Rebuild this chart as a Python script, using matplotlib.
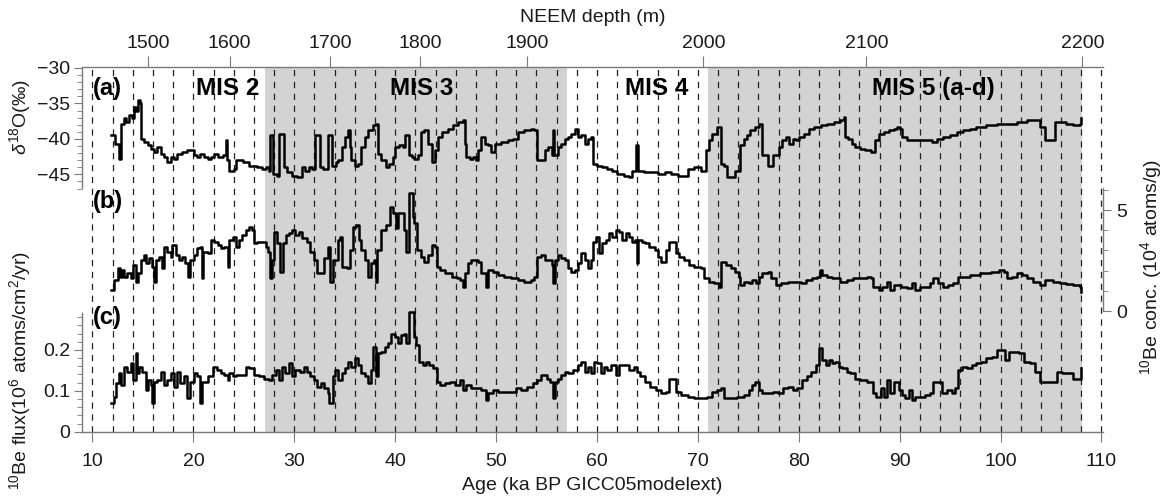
import numpy as np
import matplotlib
matplotlib.use("Agg")
import matplotlib.pyplot as plt
from matplotlib.ticker import MultipleLocator, FixedLocator

plt.rcParams['font.family'] = ['Liberation Sans', 'DejaVu Sans']
plt.rcParams['mathtext.fontset'] = 'custom'
plt.rcParams['mathtext.rm'] = 'Liberation Sans'
plt.rcParams['mathtext.it'] = 'Liberation Sans:italic'
plt.rcParams['mathtext.bf'] = 'Liberation Sans:bold'

# ---- data ----
# (a) NEEM d18O, per mil
a_age = [11.8, 12.2, 12.6, 12.8, 13.1, 13.3, 13.6, 13.9, 14.1, 14.35, 14.55, 14.7, 14.8, 15.1, 15.5,
         15.8, 16.1, 16.4, 16.8, 17.1, 17.4, 17.8, 18.1, 18.4, 18.9, 19.4, 19.7, 20.1, 20.4, 20.7,
         21.1, 21.4, 21.7, 22.0, 22.4, 22.9, 23.2, 23.3, 23.5, 24.0, 24.2, 24.9, 25.5, 26.0, 26.3,
         26.8, 27.2, 27.5, 27.6, 27.8, 27.9, 28.3, 28.5, 28.8, 29.0, 29.3, 29.8, 30.3, 30.8, 31.1,
         31.5, 31.8, 32.1, 32.4, 32.5, 32.8, 33.3, 33.6, 33.7, 34.1, 34.3, 34.7, 35.0, 35.3, 35.5,
         35.65, 36.0, 36.3, 36.65, 37.0, 37.3, 37.8, 38.1, 38.3, 38.6, 39.1, 39.4, 39.8, 40.0, 40.4,
         40.8, 41.0, 41.3, 41.4, 41.7, 41.9, 42.3, 42.6, 42.9, 43.25, 43.6, 43.9, 44.2, 44.6, 45.2,
         45.7, 46.2, 46.7, 46.9, 47.0, 47.4, 47.7, 48.0, 48.2, 48.5, 48.9, 49.2, 49.5, 49.9, 50.5,
         51.2, 51.7, 52.2, 52.8, 53.5, 53.8, 54.1, 54.5, 54.8, 55.1, 55.5, 55.6, 55.7, 56.1, 56.45,
         56.8, 57.1, 57.4, 57.8, 58.1, 58.4, 58.8, 59.1, 59.4, 59.6, 60.05, 60.5, 61.0, 61.5, 62.0,
         62.7, 63.2, 63.5, 63.9, 64.1, 64.7, 65.3, 66.0, 66.7, 67.3, 68.0, 68.6, 69.0, 69.6, 70.3,
         70.8, 71.1, 71.4, 71.9, 72.3, 72.6, 72.9, 73.4, 73.7, 74.2, 74.6, 74.9, 75.2, 75.7, 76.1,
         76.4, 76.9, 77.4, 78.0, 78.3, 78.7, 79.0, 79.4, 79.7, 80.0, 80.5, 81.0, 81.5, 82.2, 82.8,
         83.5, 84.1, 84.5, 84.6, 84.9, 85.3, 85.6, 86.1, 86.6, 87.2, 87.6, 87.9, 88.4, 88.9, 89.4,
         89.7, 90.0, 90.2, 90.7, 91.4, 92.0, 92.7, 93.2, 93.7, 94.3, 95.0, 95.7, 96.3, 97.0, 97.6,
         98.6, 99.6, 100.6, 101.6, 102.6, 103.6, 103.9, 104.4, 105.2, 105.4, 105.9, 106.5, 107.2,
         107.9, 108.0]
a_val = [-39.5, -40.7, -42.8, -37.9, -37.1, -37.6, -36.7, -37.1, -35.5, -36.0, -34.5, -35.0, -40.0,
         -40.5, -40.9, -41.4, -41.9, -41.2, -42.1, -42.6, -43.3, -42.6, -42.8, -42.1, -41.9, -41.5,
         -41.6, -42.3, -42.6, -42.1, -42.6, -42.8, -42.6, -42.1, -42.6, -42.3, -40.2, -43.0, -44.5,
         -44.2, -43.0, -43.3, -43.8, -43.8, -44.0, -44.2, -44.0, -44.5, -39.5, -39.5, -44.9, -45.2,
         -39.3, -39.3, -44.0, -44.7, -45.2, -45.4, -44.0, -44.5, -44.0, -44.2, -39.5, -39.5, -44.0,
         -44.2, -39.5, -39.5, -43.8, -43.3, -43.0, -41.2, -39.7, -38.8, -41.2, -43.0, -43.8, -43.5,
         -41.2, -39.7, -38.8, -38.1, -37.9, -42.1, -43.0, -44.0, -43.5, -42.6, -41.2, -40.9, -41.2,
         -39.5, -39.5, -42.3, -42.6, -42.8, -42.3, -39.0, -38.8, -40.7, -43.3, -41.6, -39.7, -39.0,
         -38.6, -38.1, -37.6, -37.4, -40.7, -42.6, -42.8, -42.6, -43.0, -41.6, -39.7, -40.7, -40.9,
         -41.9, -40.7, -40.5, -40.2, -40.0, -39.0, -38.8, -38.6, -38.8, -43.0, -43.0, -41.6, -41.2,
         -42.3, -38.8, -42.3, -41.2, -40.7, -40.0, -39.7, -39.3, -38.6, -39.7, -39.5, -40.7, -40.0,
         -39.7, -43.5, -43.8, -44.0, -44.2, -44.5, -44.9, -45.2, -45.4, -44.5, -40.9, -44.5, -44.7,
         -44.7, -44.9, -44.7, -44.9, -45.2, -45.3, -44.2, -44.0, -44.5, -41.6, -40.2, -39.3, -38.3,
         -43.5, -43.8, -45.4, -45.4, -44.5, -40.9, -40.0, -39.5, -38.8, -38.3, -37.9, -42.3, -43.8,
         -42.3, -41.2, -40.2, -39.7, -40.7, -40.0, -40.2, -39.7, -39.3, -38.6, -38.3, -38.1, -37.9,
         -37.6, -37.4, -36.9, -39.7, -40.0, -40.7, -41.2, -41.4, -41.6, -41.9, -40.2, -39.3, -39.0,
         -38.8, -38.6, -38.3, -38.6, -39.7, -40.2, -40.2, -40.2, -40.2, -40.5, -40.0, -39.7, -39.5,
         -39.0, -38.8, -38.6, -38.3, -38.1, -37.9, -37.9, -37.6, -37.4, -37.4, -38.3, -40.2, -40.2,
         -37.6, -37.6, -37.9, -38.1, -37.9, -37.1]

# (b) 10Be concentration, 10^4 atoms/g
b_age = [11.8, 12.1, 12.5, 12.7, 12.9, 13.1, 13.4, 13.8, 14.0, 14.3, 14.5, 14.8, 15.1, 15.3, 15.6,
         15.9, 16.1, 16.3, 16.6, 16.9, 17.1, 17.4, 17.8, 17.9, 18.3, 18.6, 18.9, 19.2, 19.5, 19.7,
         20.1, 20.4, 20.7, 20.9, 21.0, 21.4, 21.7, 22.0, 22.4, 22.7, 23.0, 23.4, 23.5, 23.9, 24.2,
         24.5, 24.85, 25.2, 25.5, 25.8, 26.0, 26.3, 26.8, 27.2, 27.4, 27.6, 27.8, 28.0, 28.3, 28.6,
         28.9, 29.2, 29.5, 29.8, 30.1, 30.5, 30.8, 31.3, 31.6, 31.95, 32.3, 32.6, 32.9, 33.3, 33.5,
         33.8, 34.3, 34.5, 34.7, 35.2, 35.5, 35.8, 36.15, 36.4, 36.65, 37.0, 37.3, 37.6, 37.9, 38.1,
         38.2, 38.6, 39.1, 39.5, 39.8, 40.1, 40.3, 40.8, 40.9, 41.1, 41.4, 41.7, 41.8, 41.9, 42.2,
         42.6, 42.9, 43.25, 43.6, 43.9, 44.1, 44.4, 44.9, 45.6, 46.1, 46.4, 46.7, 46.9, 47.2, 47.5,
         48.2, 48.5, 49.0, 49.2, 49.7, 50.2, 50.8, 51.5, 52.2, 52.8, 53.5, 53.8, 54.1, 54.5, 54.8,
         55.2, 55.5, 55.6, 55.8, 56.1, 56.45, 56.8, 57.1, 57.4, 57.8, 58.1, 58.4, 58.8, 59.1, 59.4,
         59.6, 59.9, 60.2, 60.5, 60.9, 61.2, 61.5, 61.9, 62.2, 62.5, 62.9, 63.2, 63.5, 63.8, 64.0,
         64.1, 64.5, 64.8, 65.2, 65.7, 66.0, 66.3, 66.8, 67.1, 67.5, 67.8, 68.1, 68.6, 69.1, 69.6,
         70.3, 70.6, 71.1, 71.6, 72.1, 72.3, 72.8, 73.3, 73.7, 74.1, 74.2, 74.6, 75.1, 75.4, 75.8,
         76.1, 76.4, 76.9, 77.2, 77.7, 78.2, 78.9, 79.5, 80.2, 80.7, 81.3, 81.8, 82.1, 82.3, 82.8,
         83.3, 83.8, 84.1, 84.8, 85.4, 86.1, 86.75, 87.2, 87.4, 87.9, 88.2, 88.7, 89.05, 89.4, 90.1,
         90.7, 91.2, 91.5, 92.0, 92.5, 93.0, 93.35, 93.8, 94.3, 94.8, 95.3, 95.8, 96.3, 97.0, 98.0,
         99.0, 99.8, 100.3, 100.6, 101.1, 101.6, 102.1, 102.6, 103.25, 103.9, 104.4, 105.2, 105.9,
         106.5, 107.2, 107.9, 108.0]
b_val = [1.04, 1.53, 2.11, 1.70, 2.03, 1.70, 1.86, 1.62, 2.28, 1.45, 1.86, 2.52, 2.77, 2.36, 2.61,
         2.19, 1.45, 2.52, 2.69, 2.11, 3.18, 2.94, 2.69, 3.27, 2.77, 2.52, 2.69, 2.36, 1.70, 2.52,
         2.77, 3.10, 3.18, 1.62, 2.94, 2.85, 3.51, 3.43, 3.27, 3.10, 3.18, 2.19, 3.51, 3.68, 3.18,
         3.51, 3.76, 4.01, 4.17, 4.01, 3.35, 3.43, 3.43, 3.18, 2.94, 1.62, 2.52, 3.93, 3.35, 1.95,
         3.35, 3.76, 3.84, 4.01, 3.76, 3.93, 3.60, 3.43, 2.94, 2.52, 1.86, 1.86, 2.61, 3.18, 1.45,
         2.52, 3.51, 3.68, 2.19, 2.11, 3.02, 4.17, 4.26, 3.51, 3.02, 2.52, 1.70, 2.36, 2.52, 1.45,
         3.02, 4.01, 4.26, 5.17, 4.83, 4.09, 4.83, 4.83, 4.01, 2.94, 5.82, 5.82, 4.67, 4.34, 3.02,
         2.69, 2.44, 2.77, 3.27, 3.18, 2.19, 2.03, 1.86, 1.70, 1.62, 1.53, 1.20, 1.86, 2.36, 2.52,
         2.44, 1.86, 1.20, 2.03, 1.95, 1.78, 1.70, 1.62, 1.53, 1.45, 1.53, 1.70, 2.69, 2.77, 2.52,
         2.52, 2.28, 1.37, 2.52, 2.77, 2.61, 2.52, 2.11, 1.95, 2.03, 2.36, 2.85, 2.52, 2.11, 2.52,
         3.43, 3.68, 2.85, 3.35, 3.51, 3.84, 3.68, 4.01, 3.93, 3.51, 3.84, 3.68, 3.43, 3.51, 2.36,
         3.51, 3.43, 3.35, 3.18, 3.02, 2.69, 2.44, 3.02, 3.43, 3.43, 2.85, 2.69, 2.52, 2.28, 2.19,
         2.11, 1.62, 1.45, 1.37, 1.20, 2.44, 2.28, 2.11, 1.95, 1.70, 1.29, 1.45, 1.37, 1.53, 1.37,
         1.70, 1.86, 1.95, 1.62, 1.29, 1.37, 1.45, 1.45, 1.37, 1.53, 1.62, 1.70, 2.03, 1.78, 1.70,
         1.62, 1.62, 1.45, 1.53, 1.62, 1.62, 1.70, 1.62, 1.20, 1.04, 1.20, 1.45, 1.04, 1.29, 1.20,
         1.12, 1.37, 1.04, 1.20, 1.20, 1.37, 1.62, 1.37, 1.20, 1.29, 1.37, 1.70, 1.70, 1.78, 1.86,
         1.95, 2.03, 1.95, 1.62, 1.70, 1.86, 1.78, 1.62, 1.45, 1.29, 1.53, 1.45, 1.37,
         1.34, 1.29, 1.20, 0.96]

# (c) 10Be flux, 10^6 atoms/cm2/yr
c_age = [11.8, 12.1, 12.3, 12.6, 12.8, 13.1, 13.4, 13.8, 14.0, 14.3, 14.45, 14.6, 14.9, 15.3, 15.5,
         15.8, 15.9, 16.1, 16.4, 16.8, 17.1, 17.4, 17.8, 18.1, 18.4, 18.7, 19.1, 19.4, 19.7, 20.1,
         20.4, 20.7, 20.9, 21.4, 21.9, 22.3, 22.7, 23.0, 23.4, 23.5, 23.9, 24.2, 24.7, 25.2, 25.5,
         26.0, 26.5, 27.0, 27.5, 27.8, 28.2, 28.5, 28.8, 29.1, 29.5, 29.8, 30.1, 30.6, 30.95, 31.3,
         31.6, 31.95, 32.3, 32.6, 32.9, 33.3, 33.4, 33.8, 34.0, 34.3, 34.7, 35.0, 35.3, 35.65, 36.0,
         36.3, 36.65, 37.0, 37.3, 37.6, 37.8, 38.1, 38.3, 38.6, 39.0, 39.3, 39.6, 39.95, 40.3, 40.6,
         40.9, 41.1, 41.4, 41.7, 41.9, 42.1, 42.4, 42.8, 43.1, 43.4, 43.7, 44.1, 44.4, 44.9, 45.4,
         45.9, 46.4, 46.7, 47.0, 47.5, 48.0, 48.5, 49.0, 49.2, 49.7, 50.2, 50.8, 51.5, 52.0, 52.5,
         53.1, 53.65, 54.1, 54.5, 55.0, 55.3, 55.6, 55.8, 56.1, 56.45, 56.8, 57.1, 57.6, 58.1, 58.4,
         58.8, 59.1, 59.4, 59.7, 60.05, 60.4, 60.7, 61.0, 61.4, 61.9, 62.2, 62.7, 63.2, 63.7, 64.0,
         64.3, 64.8, 65.3, 65.8, 66.3, 66.8, 67.1, 67.5, 67.8, 68.3, 69.0, 69.6, 70.3, 70.95, 71.4,
         71.9, 72.3, 72.6, 73.25, 73.9, 74.6, 75.1, 75.4, 75.7, 76.1, 76.4, 76.9, 77.4, 77.9, 78.4,
         78.9, 79.4, 79.85, 80.35, 80.8, 81.2, 81.7, 82.0, 82.3, 82.7, 83.0, 83.3, 83.6, 84.0, 84.3,
         84.8, 85.1, 85.6, 86.1, 86.75, 87.4, 87.7, 88.1, 88.4, 88.7, 89.05, 89.4, 89.9, 90.2, 90.5,
         90.9, 91.2, 91.5, 92.0, 92.5, 93.0, 93.35, 93.8, 94.2, 94.7, 95.2, 95.5, 95.8, 96.15, 96.65,
         97.15, 97.6, 98.1, 98.6, 99.1, 99.6, 100.1, 100.4, 100.8, 101.3, 101.8, 102.3, 102.9, 103.4,
         103.9, 104.4, 105.1, 105.6, 106.1, 106.6, 107.2, 107.7, 108.0]
c_val = [0.069, 0.086, 0.118, 0.143, 0.114, 0.159, 0.147, 0.167, 0.126, 0.192, 0.143, 0.159, 0.147,
         0.102, 0.126, 0.114, 0.069, 0.122, 0.126, 0.147, 0.114, 0.126, 0.143, 0.110, 0.147, 0.118,
         0.135, 0.082, 0.122, 0.143, 0.135, 0.069, 0.122, 0.135, 0.159, 0.151, 0.143, 0.139, 0.126,
         0.143, 0.135, 0.139, 0.139, 0.159, 0.155, 0.139, 0.135, 0.130, 0.126, 0.139, 0.151, 0.126,
         0.159, 0.143, 0.167, 0.135, 0.151, 0.147, 0.159, 0.147, 0.135, 0.126, 0.110, 0.118, 0.106,
         0.094, 0.069, 0.135, 0.151, 0.126, 0.143, 0.155, 0.171, 0.159, 0.179, 0.163, 0.143, 0.135,
         0.118, 0.151, 0.208, 0.135, 0.192, 0.196, 0.208, 0.216, 0.240, 0.232, 0.216, 0.236, 0.240,
         0.216, 0.293, 0.293, 0.232, 0.212, 0.171, 0.163, 0.171, 0.163, 0.155, 0.122, 0.114, 0.118,
         0.122, 0.114, 0.126, 0.102, 0.114, 0.106, 0.106, 0.102, 0.078, 0.094, 0.102, 0.098, 0.098,
         0.098, 0.106, 0.102, 0.110, 0.118, 0.126, 0.139, 0.130, 0.122, 0.082, 0.122, 0.130, 0.139,
         0.147, 0.143, 0.151, 0.163, 0.171, 0.147, 0.159, 0.143, 0.171, 0.167, 0.143, 0.159, 0.151,
         0.163, 0.139, 0.163, 0.163, 0.151, 0.159, 0.147, 0.135, 0.122, 0.110, 0.102, 0.094, 0.098,
         0.130, 0.130, 0.098, 0.090, 0.086, 0.082, 0.082, 0.086, 0.098, 0.102, 0.106, 0.082, 0.082,
         0.086, 0.090, 0.102, 0.114, 0.122, 0.102, 0.094, 0.094, 0.098, 0.094, 0.106, 0.110, 0.102,
         0.106, 0.126, 0.135, 0.147, 0.163, 0.204, 0.175, 0.163, 0.175, 0.167, 0.171, 0.159, 0.155,
         0.147, 0.143, 0.130, 0.126, 0.122, 0.094, 0.086, 0.106, 0.086, 0.126, 0.094, 0.122, 0.102,
         0.090, 0.082, 0.102, 0.078, 0.086, 0.086, 0.090, 0.094, 0.122, 0.122, 0.094, 0.102, 0.094,
         0.106, 0.151, 0.159, 0.155, 0.163, 0.167, 0.171, 0.179, 0.183, 0.200, 0.200, 0.175, 0.196,
         0.196, 0.192, 0.171, 0.167, 0.147, 0.122, 0.122, 0.122, 0.147, 0.143, 0.143, 0.130, 0.130,
         0.155]

# marine isotope stages (shaded) and labels
mis_spans = [(27.05, 57.0), (71.0, 108.1)]
mis_labels = ['MIS 2', 'MIS 3', 'MIS 4', 'MIS 5 (a-d)']
mis_label_age = [23.4, 42.6, 65.9, 93.3]

# NEEM depth scale on top
depth_ticks = [1500, 1600, 1700, 1800, 1900, 2000, 2100, 2200]
depth_tick_age = [15.5, 23.6, 33.55, 42.5, 53.1, 70.55, 86.7, 108.1]

# ---- figure ----
W, H = 1167, 501
fig = plt.figure(figsize=(W / 100, H / 100), dpi=100)

left, right, top, bottom = 82.4, 1102.5, 67.0, 431.7
pos = [left / W, 1 - bottom / H, (right - left) / W, (bottom - top) / H]

spine_col = '#7a7a7a'
txt_col = '#1a1a1a'
fs = 14

ax = fig.add_axes(pos)  # panel (c) + bottom age axis
ax.set_xlim(9.0, 110.1)

for s0, s1 in mis_spans:
    ax.axvspan(s0, s1, color='#d3d3d3', lw=0, zorder=0)
for xv in np.arange(10, 111, 2):
    ax.axvline(xv, color='#222222', lw=0.9, ls=(0, (5, 4.5)), zorder=1)

ax.plot(c_age, c_val, drawstyle='steps-post', color='black', lw=1.8, zorder=3)
ax.set_ylim(0, 0.8917)
ax.yaxis.set_major_locator(FixedLocator([0, 0.1, 0.2]))
ax.yaxis.set_minor_locator(FixedLocator(np.round(np.arange(0, 0.29, 0.02), 2)))
ax.set_yticklabels(['0', '0.1', '0.2'])
ax.spines['left'].set_bounds(0, 0.29)
ax.spines['top'].set_visible(False)
ax.spines['right'].set_visible(False)
ax.xaxis.set_major_locator(MultipleLocator(10))
ax.tick_params(axis='x', which='major', direction='out', length=7.5, pad=8, labelsize=fs,
               colors=spine_col, labelcolor=txt_col)
ax.tick_params(axis='y', which='major', direction='out', length=6, pad=3, labelsize=fs,
               colors=spine_col, labelcolor=txt_col)
ax.tick_params(axis='y', which='minor', direction='out', length=3.5, colors=spine_col)
ax.set_xlabel('Age (ka BP GICC05modelext)', fontsize=fs, color=txt_col, labelpad=5)

# panel (a)
ax_a = fig.add_axes(pos, sharex=ax)
ax_a.patch.set_visible(False)
ax_a.plot(a_age, a_val, drawstyle='steps-post', color='black', lw=1.8)
ax_a.set_ylim(-81.3, -29.86)
ax_a.yaxis.set_major_locator(FixedLocator([-45, -40, -35, -30]))
ax_a.yaxis.set_minor_locator(FixedLocator(np.arange(-47, -29, 1)))
for sp in ['top', 'right', 'bottom']:
    ax_a.spines[sp].set_visible(False)
ax_a.spines['left'].set_bounds(-46.9, -30)
ax_a.tick_params(axis='x', which='both', bottom=False, labelbottom=False)
ax_a.tick_params(axis='y', which='major', direction='out', length=6, pad=3, labelsize=fs,
                 colors=spine_col, labelcolor=txt_col)
ax_a.tick_params(axis='y', which='minor', direction='out', length=3.5, colors=spine_col)

# panel (b)
ax_b = fig.add_axes(pos, sharex=ax)
ax_b.patch.set_visible(False)
ax_b.plot(b_age, b_val, drawstyle='steps-post', color='black', lw=1.8)
ax_b.set_ylim(-5.975, 12.08)
ax_b.yaxis.tick_right()
ax_b.yaxis.set_major_locator(FixedLocator([0, 5]))
ax_b.yaxis.set_minor_locator(FixedLocator(np.arange(0, 7, 1)))
for sp in ['top', 'left', 'bottom']:
    ax_b.spines[sp].set_visible(False)
ax_b.spines['right'].set_bounds(0, 6.1)
ax_b.tick_params(axis='x', which='both', bottom=False, labelbottom=False)
ax_b.tick_params(axis='y', which='major', direction='out', length=6, pad=4, labelsize=fs,
                 colors=spine_col, labelcolor=txt_col)
ax_b.tick_params(axis='y', which='minor', direction='out', length=3.5, colors=spine_col)

# top depth axis
ax_t = ax.twiny()
ax_t.patch.set_visible(False)
ax_t.set_xlim(ax.get_xlim())
ax_t.set_xticks(depth_tick_age)
ax_t.set_xticklabels([str(d) for d in depth_ticks])
for sp in ['bottom', 'left', 'right']:
    ax_t.spines[sp].set_visible(False)
ax_t.tick_params(axis='x', direction='out', length=8, pad=3, labelsize=fs,
                 colors=spine_col, labelcolor=txt_col)
ax_t.set_xlabel('NEEM depth (m)', fontsize=fs, color=txt_col, labelpad=9)

for axx in (ax, ax_a, ax_b, ax_t):
    for sp in axx.spines.values():
        sp.set_color(spine_col)
        sp.set_linewidth(1.0)

# panel letters and MIS labels
for lab, yf in zip(['(a)', '(b)', '(c)'], [0.942, 0.630, 0.314]):
    ax.text(10.05, yf, lab, transform=ax.get_xaxis_transform(), ha='left', va='center',
            fontsize=17, fontweight='bold', color='black', zorder=5)
for lab, xa in zip(mis_labels, mis_label_age):
    ax.text(xa, 0.923, lab, transform=ax.get_xaxis_transform(), ha='center', va='baseline',
            fontsize=17.5, fontweight='bold', color='black', zorder=5)

# axis titles
fig.text(20 / W, 1 - 117 / H, r'$\delta^{18}$O(‰)', rotation=90, ha='center', va='center',
         fontsize=fs, color=txt_col)
fig.text(20 / W, 1 - 370 / H, r'$^{10}$Be flux(10$^{6}$ atoms/cm$^{2}$/yr)', rotation=90,
         ha='center', va='center', fontsize=fs, color=txt_col)
fig.text(1151 / W, 1 - 267 / H, r'$^{10}$Be conc. (10$^{4}$ atoms/g)', rotation=90,
         ha='center', va='center', fontsize=fs, color=txt_col)

fig.savefig('out.png', dpi=100)
